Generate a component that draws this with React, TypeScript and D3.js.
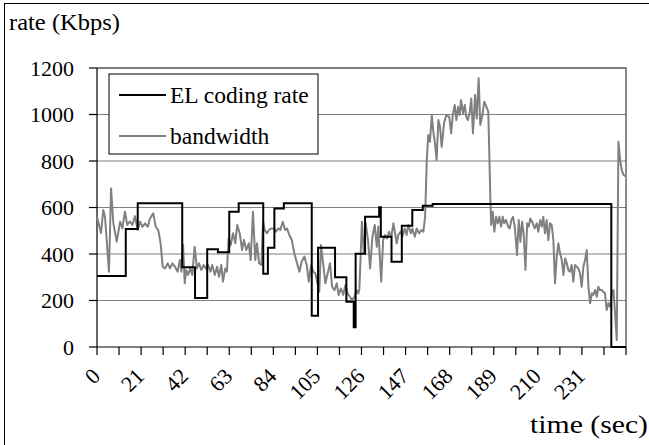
import { useEffect, useRef } from 'react'
import * as d3 from 'd3'

// EL coding rate: change points [time (sec), rate (Kbps)], drawn as steps
const codingRate: [number, number][] = [
  [0, 305], [13.7, 507], [19.4, 618], [40.6, 343], [46.7, 211], [52.5, 420],
  [57.6, 408], [63.0, 582], [67.5, 618], [79.2, 315], [81.4, 427], [84.5, 596],
  [89.0, 618], [102.3, 134], [105.3, 427], [113.4, 300], [118.8, 195], [122.3, 85],
  [123.2, 401], [127.7, 560], [134.4, 601], [135.2, 474], [140.3, 367], [145.2, 522],
  [150.2, 589], [155.2, 608], [159.9, 615], [245.0, 0], [252, 0],
]

// measured bandwidth samples [time (sec), rate (Kbps)]
const bandwidth: [number, number][] = [
  [0, 560], [1.9, 490], [3.0, 589], [3.8, 560], [5.7, 324], [6.7, 682], [7.8, 532],
  [9.4, 453], [11.0, 539], [12.1, 510], [13.3, 582], [14.4, 525], [15.7, 540],
  [16.8, 525], [18.1, 563], [19.4, 503], [20.5, 539], [21.6, 517], [22.9, 532],
  [24.2, 517], [25.2, 552], [26.8, 575], [28.0, 517], [29.2, 503], [30.3, 446],
  [31.3, 345], [32.4, 338], [33.7, 360], [34.8, 338], [35.9, 360], [37.2, 345],
  [38.4, 324], [39.5, 374], [40.2, 324], [41.0, 440], [41.8, 274], [42.5, 331],
  [43.4, 310], [44.4, 338], [45.4, 310], [46.5, 431], [47.6, 338], [48.6, 360],
  [49.7, 331], [50.8, 353], [51.8, 338], [52.9, 353], [54.0, 324], [54.9, 353],
  [56.1, 310], [57.2, 345], [58.1, 302], [59.2, 353], [60.0, 281], [61.1, 338],
  [61.9, 324], [62.7, 467], [63.7, 439], [64.8, 489], [65.9, 446], [66.8, 525],
  [68.0, 489], [69.1, 417], [70.0, 460], [71.1, 417], [72.3, 446], [73.2, 374],
  [74.3, 582], [75.4, 374], [76.2, 446], [77.2, 360], [78.3, 353], [79.1, 539],
  [79.9, 503], [81.0, 489], [81.9, 503], [83.0, 510], [84.2, 510], [85.3, 496],
  [86.4, 510], [87.3, 503], [88.5, 539], [89.6, 503], [90.5, 510], [91.6, 482],
  [92.8, 460], [94.0, 403], [95.3, 360], [96.4, 324], [97.5, 367], [98.8, 389],
  [99.9, 353], [100.9, 281], [102.0, 353], [103.0, 324], [104.0, 317], [105.9, 238],
  [106.7, 439], [107.8, 353], [108.8, 274], [109.9, 317], [111.0, 360], [112.0, 259],
  [113.1, 244], [114.2, 274], [115.1, 224], [116.2, 252], [117.3, 224], [118.3, 266],
  [119.4, 230], [120.5, 216], [121.5, 201], [122.6, 216], [123.7, 244], [124.5, 230],
  [125.0, 250], [126.2, 539], [127.1, 403], [128.0, 532], [129.1, 460], [130.1, 338],
  [131.2, 474], [132.3, 525], [133.3, 431], [134.0, 518], [134.7, 389], [135.4, 281],
  [136.3, 460], [137.2, 482], [138.2, 467], [139.1, 496], [140.2, 474], [141.2, 532],
  [142.0, 489], [142.8, 446], [143.5, 482], [144.7, 496], [145.5, 474], [146.6, 510],
  [147.5, 482], [148.3, 525], [149.5, 489], [150.2, 510], [151.4, 474], [152.3, 510],
  [153.4, 489], [154.5, 503], [155.5, 496], [156.3, 560], [157.1, 804], [157.8, 912],
  [158.6, 883], [159.5, 998], [160.2, 926], [161.0, 876], [161.8, 804], [162.6, 976],
  [163.4, 947], [164.2, 861], [165.3, 962], [166.4, 998], [167.8, 990], [168.7, 919],
  [169.5, 998], [170.4, 1041], [171.2, 976], [172.0, 1033], [172.8, 998], [173.4, 1062],
  [174.4, 1005], [175.2, 1041], [175.9, 990], [176.7, 976], [177.6, 1012], [178.3, 1069],
  [179.1, 919], [180.1, 1084], [180.9, 983], [181.8, 1156], [182.6, 955], [183.6, 998],
  [184.5, 1055], [185.5, 1033], [186.4, 1012], [187.4, 632], [187.8, 525], [188.5, 582],
  [189.3, 496], [190.1, 560], [190.9, 532], [191.7, 560], [192.5, 518], [193.3, 560],
  [194.0, 532], [194.9, 546], [195.8, 518], [196.6, 510], [197.4, 546], [198.2, 560],
  [199.0, 518], [200.1, 396], [200.9, 546], [201.7, 453], [202.5, 539], [203.3, 482],
  [204.1, 331], [204.9, 532], [205.7, 518], [206.4, 553], [207.6, 532], [208.5, 510],
  [209.5, 532], [210.2, 496], [211.1, 546], [211.9, 518], [212.6, 560], [213.4, 489],
  [214.2, 546], [215.0, 460], [215.8, 532], [216.6, 525], [217.4, 460], [218.2, 274],
  [219.0, 389], [219.8, 446], [220.6, 403], [221.4, 374], [222.2, 310], [223.0, 381],
  [223.8, 360], [224.5, 331], [225.3, 324], [226.1, 353], [226.9, 281], [227.7, 353],
  [228.5, 345], [229.3, 338], [230.1, 317], [230.9, 259], [231.7, 345], [232.5, 374],
  [233.3, 417], [234.1, 259], [234.9, 188], [235.7, 231], [236.4, 224], [237.3, 245],
  [238.1, 216], [238.8, 259], [239.6, 245], [240.4, 245], [241.2, 238], [242.0, 231],
  [242.8, 159], [243.6, 188], [244.4, 173], [245.2, 231], [246.0, 245], [246.8, 144],
  [247.6, 30], [248.4, 883], [249.2, 804], [250.0, 761], [250.8, 740], [251.7, 735],
]

const yTicks = [0, 200, 400, 600, 800, 1000, 1200]
const xLabels = [0, 21, 42, 63, 84, 105, 126, 147, 168, 189, 210, 231]
const xTickStep = 10.5
const xMax = 252

const legendItems = [
  { label: 'EL coding rate', color: '#000000' },
  { label: 'bandwidth', color: '#808080' },
]

const FONT = 'Liberation Serif'

export default function App() {
  const svgRef = useRef<SVGSVGElement>(null)

  useEffect(() => {
    if (!svgRef.current) return
    const svg = d3.select(svgRef.current)
    svg.selectAll('*').remove()

    const x = d3.scaleLinear().domain([0, xMax]).range([97, 626])
    const y = d3.scaleLinear().domain([0, 1200]).range([347, 68])

    // outer frame
    svg.append('rect')
      .attr('x', 4.5).attr('y', 3.5)
      .attr('width', 700).attr('height', 500)
      .attr('fill', 'white')
      .attr('stroke', '#000').attr('stroke-width', 1)

    // gridlines
    svg.append('g')
      .selectAll('line')
      .data(yTicks.filter(d => d > 0))
      .join('line')
      .attr('x1', x(0)).attr('x2', x(xMax))
      .attr('y1', d => y(d)).attr('y2', d => y(d))
      .attr('stroke', '#808080').attr('stroke-width', 1.2)

    // plot border (top/right)
    svg.append('path')
      .attr('d', `M${x(0)},${y(1200)}H${x(xMax)}V${y(0)}`)
      .attr('fill', 'none')
      .attr('stroke', '#404040').attr('stroke-width', 1.2)

    // y axis
    const yAxis = svg.append('g')
    yAxis.append('line')
      .attr('x1', x(0)).attr('x2', x(0))
      .attr('y1', y(0)).attr('y2', y(1200))
      .attr('stroke', '#000').attr('stroke-width', 1.2)
    yAxis.selectAll('line.tick')
      .data(yTicks)
      .join('line')
      .attr('class', 'tick')
      .attr('x1', x(0) - 8).attr('x2', x(0))
      .attr('y1', d => y(d)).attr('y2', d => y(d))
      .attr('stroke', '#000').attr('stroke-width', 1.2)
    yAxis.selectAll('text')
      .data(yTicks)
      .join('text')
      .attr('x', 74)
      .attr('y', d => y(d))
      .attr('dy', '0.35em')
      .attr('text-anchor', 'end')
      .attr('font-family', FONT)
      .attr('font-size', 22)
      .text(d => d)

    // x axis
    const xAxis = svg.append('g')
    xAxis.append('line')
      .attr('x1', x(0)).attr('x2', x(xMax))
      .attr('y1', y(0)).attr('y2', y(0))
      .attr('stroke', '#000').attr('stroke-width', 1.2)
    xAxis.selectAll('line.tick')
      .data(d3.range(0, xMax + 0.01, xTickStep))
      .join('line')
      .attr('class', 'tick')
      .attr('x1', d => x(d)).attr('x2', d => x(d))
      .attr('y1', y(0)).attr('y2', y(0) + 8)
      .attr('stroke', '#000').attr('stroke-width', 1.2)
    xAxis.selectAll('text')
      .data(xLabels)
      .join('text')
      .attr('transform', d => `translate(${x(d) - 1},${y(0) + 25}) rotate(-45)`)
      .attr('text-anchor', 'end')
      .attr('dy', '0.35em')
      .attr('font-family', FONT)
      .attr('font-size', 22)
      .text(d => d)

    // series
    const bwLine = d3.line<[number, number]>()
      .x(d => x(d[0]))
      .y(d => y(d[1]))
    svg.append('path')
      .attr('d', bwLine(bandwidth))
      .attr('fill', 'none')
      .attr('stroke', '#808080')
      .attr('stroke-width', 2)
      .attr('stroke-linejoin', 'round')

    const rateLine = d3.line<[number, number]>()
      .x(d => x(d[0]))
      .y(d => y(d[1]))
      .curve(d3.curveStepAfter)
    svg.append('path')
      .attr('d', rateLine(codingRate))
      .attr('fill', 'none')
      .attr('stroke', '#000')
      .attr('stroke-width', 2)

    // legend
    const legend = svg.append('g')
    legend.append('rect')
      .attr('x', 109).attr('y', 74)
      .attr('width', 209).attr('height', 80)
      .attr('fill', 'white')
      .attr('stroke', '#000').attr('stroke-width', 1)
    legendItems.forEach((item, i) => {
      const ly = 95 + i * 41
      legend.append('line')
        .attr('x1', 119).attr('x2', 166)
        .attr('y1', ly).attr('y2', ly)
        .attr('stroke', item.color).attr('stroke-width', 2)
      legend.append('text')
        .attr('x', 170).attr('y', ly)
        .attr('dy', '0.35em')
        .attr('font-family', FONT)
        .attr('font-size', 23.5)
        .text(item.label)
    })

    // axis titles
    svg.append('text')
      .attr('x', 9).attr('y', 30)
      .attr('font-family', FONT)
      .attr('font-size', 23)
      .attr('textLength', 111)
      .attr('lengthAdjust', 'spacingAndGlyphs')
      .text('rate (Kbps)')
    svg.append('text')
      .attr('x', 530).attr('y', 433)
      .attr('font-family', FONT)
      .attr('font-size', 25)
      .attr('textLength', 118)
      .attr('lengthAdjust', 'spacingAndGlyphs')
      .text('time (sec)')
  }, [])

  return (
    <svg
      ref={svgRef}
      width={649}
      height={445}
      style={{ position: 'absolute', left: 0, top: 0, display: 'block' }}
    />
  )
}
